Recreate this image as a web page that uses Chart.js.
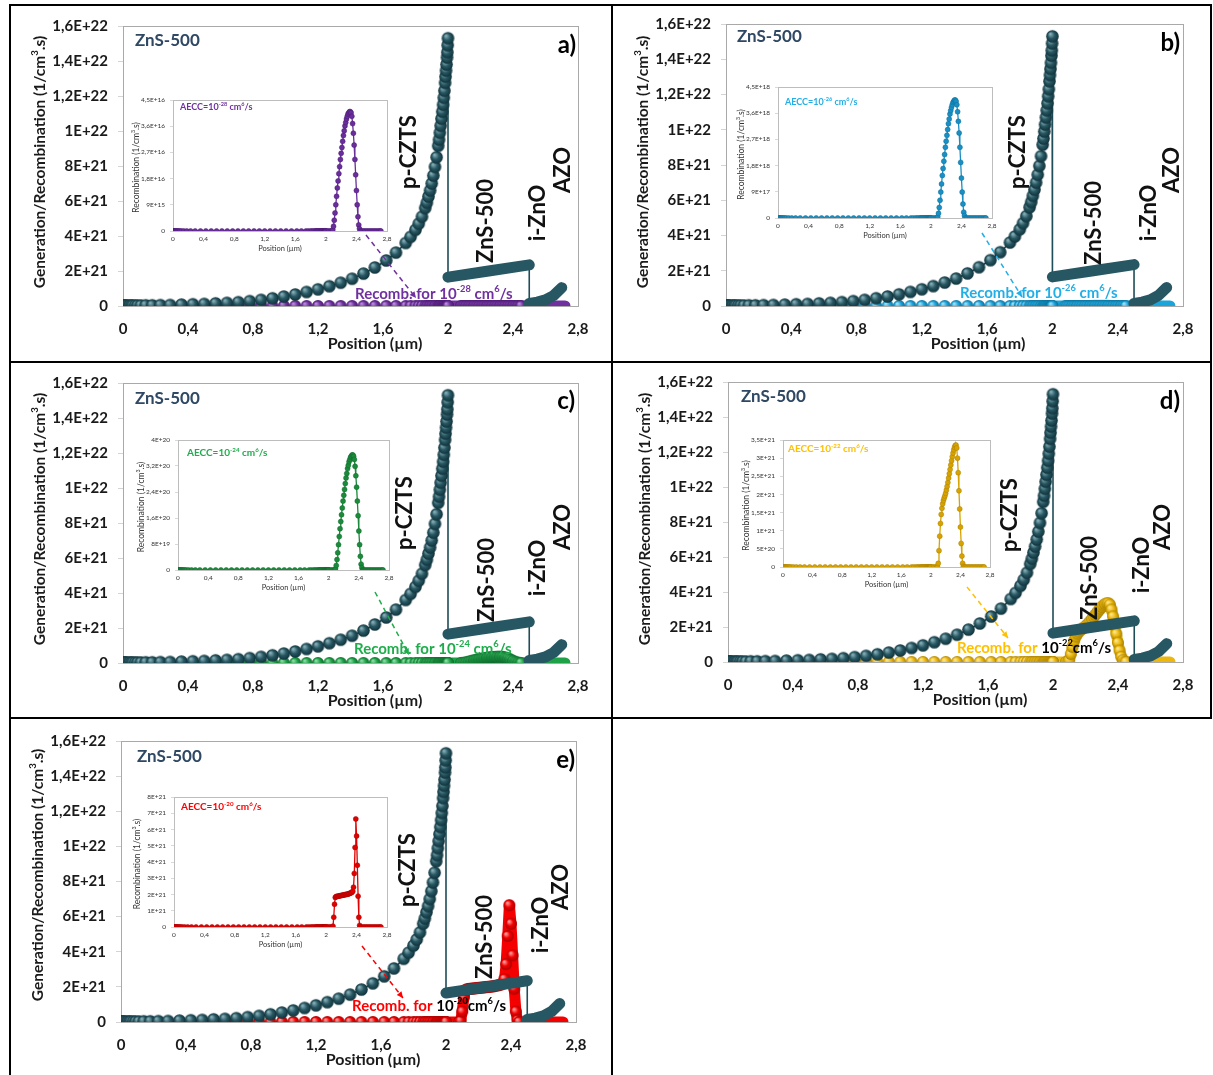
<!DOCTYPE html>
<html>
<head>
<meta charset="utf-8">
<script src="https://cdn.jsdelivr.net/npm/chart.js@4.4.1/dist/chart.umd.min.js"></script>
<style>
  body { margin: 0; background: #fff; }
  #page { position: relative; width: 1213px; height: 1075px; overflow: hidden; background: #fff; }
  #page canvas { position: absolute; }
  .rule { position: absolute; background: #000; z-index: 5; }
</style>
</head>
<body>
<div id="page"></div>
<script>
const F = 'Lato, "Open Sans", sans-serif';

// x axis (µm) shared by every chart
const xTicks = [0, 0.4, 0.8, 1.2, 1.6, 2, 2.4, 2.8];
const xTickLabels = ['0', '0,4', '0,8', '1,2', '1,6', '2', '2,4', '2,8'];

// main charts, y in units of 1E+21 /cm3.s
const mainYTicks = [0, 2, 4, 6, 8, 10, 12, 14, 16];
const mainYLabels = ['0', '2E+21', '4E+21', '6E+21', '8E+21', '1E+22', '1,2E+22', '1,4E+22', '1,6E+22'];

// generation profile (same in all five panels), 1E+21 /cm3.s
const cztsX = [0, 0.005, 0.01, 0.015, 0.02, 0.03, 0.04, 0.05, 0.06, 0.075, 0.09, 0.11, 0.14, 0.18, 0.23,
  0.29, 0.36, 0.43, 0.5, 0.57, 0.64, 0.71, 0.78, 0.85, 0.92, 0.99, 1.06, 1.13, 1.2, 1.27, 1.34, 1.41,
  1.48, 1.55, 1.62, 1.68, 1.74, 1.77, 1.8, 1.82, 1.84, 1.86, 1.87, 1.88, 1.89, 1.9, 1.91, 1.92, 1.93,
  1.94, 1.945, 1.95, 1.955, 1.96, 1.965, 1.97, 1.974, 1.978, 1.982, 1.985, 1.988, 1.991, 1.994, 1.996,
  1.998, 2.0];
const cztsGen = [0.02, 0.02, 0.02, 0.02, 0.02, 0.02, 0.02, 0.03, 0.03, 0.03, 0.03, 0.03, 0.04, 0.04, 0.05,
  0.06, 0.08, 0.1, 0.12, 0.15, 0.18, 0.22, 0.28, 0.35, 0.44, 0.54, 0.66, 0.8, 0.95, 1.13, 1.33, 1.56,
  1.85, 2.2, 2.6, 3.05, 3.6, 3.95, 4.35, 4.7, 5.1, 5.6, 5.9, 6.25, 6.6, 7.0, 7.45, 7.95, 8.5,
  9.15, 9.5, 9.9, 10.3, 10.7, 11.1, 11.5, 11.9, 12.3, 12.75, 13.1, 13.45, 13.8, 14.2, 14.5,
  14.9, 15.3];
const znsX = [2.0, 2.25, 2.5];
const znsGen = [1.65, 2.0, 2.35];
const azoX = [2.5, 2.55, 2.6, 2.65, 2.7];
const azoGen = [0.15, 0.22, 0.35, 0.6, 1.05];

// recombination: zero outside the peak region
const flatX = [2.02, 2.04, 2.06];
const tailX = [2.47, 2.49, 2.51, 2.53, 2.55, 2.57, 2.59, 2.61, 2.63, 2.65, 2.67, 2.69, 2.71, 2.72];
const peakX = [2.08, 2.09, 2.1, 2.11, 2.12, 2.13, 2.14, 2.15, 2.16, 2.17, 2.18, 2.19, 2.2, 2.21, 2.22,
  2.23, 2.24, 2.25, 2.26, 2.27, 2.28, 2.29, 2.3, 2.31, 2.32, 2.33, 2.34, 2.35, 2.36, 2.37, 2.38, 2.39,
  2.4, 2.41, 2.42, 2.43, 2.44, 2.45];
// AECC = 1e-28 (x1E+16)
const recA = [0, 0.04, 0.16, 0.37, 0.62, 0.9, 1.19, 1.48, 1.72, 1.97, 2.21, 2.46, 2.67, 2.87, 3.08, 3.28,
  3.44, 3.61, 3.73, 3.85, 3.94, 4.02, 4.06, 4.1, 4.1, 4.06, 3.94, 3.69, 3.36, 2.95, 2.46, 1.93, 1.39,
  0.9, 0.49, 0.21, 0.08, 0];
// AECC = 1e-26 (x1E+18)
const recB = [0, 0.04, 0.16, 0.36, 0.61, 0.89, 1.17, 1.46, 1.7, 1.95, 2.18, 2.43, 2.64, 2.84, 3.04, 3.24,
  3.4, 3.57, 3.69, 3.8, 3.89, 3.97, 4.01, 4.05, 4.05, 4.01, 3.89, 3.65, 3.32, 2.92, 2.43, 1.91, 1.37,
  0.89, 0.48, 0.2, 0.08, 0];
// AECC = 1e-24 (x1E+20)
const recC = [0, 0.04, 0.14, 0.32, 0.53, 0.78, 1.03, 1.27, 1.49, 1.7, 1.91, 2.12, 2.3, 2.48, 2.66, 2.83,
  2.97, 3.12, 3.22, 3.33, 3.4, 3.47, 3.5, 3.54, 3.54, 3.5, 3.4, 3.19, 2.9, 2.55, 2.12, 1.67, 1.2,
  0.78, 0.42, 0.18, 0.07, 0];
// AECC = 1e-22 (x1E+21)
const recD = [0, 0, 0.1, 0.45, 0.85, 1.2, 1.45, 1.62, 1.74, 1.83, 1.9, 1.96, 2.03, 2.12, 2.22, 2.33,
  2.45, 2.57, 2.69, 2.81, 2.93, 3.04, 3.14, 3.23, 3.3, 3.35, 3.36, 3.28, 3.0, 2.6, 2.1, 1.6, 1.1,
  0.65, 0.3, 0.1, 0.02, 0];
// AECC = 1e-20 (x1E+21)
const recE = [0, 0.05, 0.6, 1.4, 1.82, 1.87, 1.88, 1.89, 1.9, 1.91, 1.92, 1.93, 1.94, 1.95, 1.96, 1.97,
  1.98, 1.99, 2.0, 2.01, 2.02, 2.03, 2.05, 2.07, 2.09, 2.11, 2.14, 2.2, 2.45, 3.3, 4.9, 6.65, 5.6,
  3.8, 1.9, 0.6, 0.1, 0];

// inset y ticks
const insetTicksA = [0, 0.9, 1.8, 2.7, 3.6, 4.5];
const insetLabelsA = ['0', '9E+15', '1,8E+16', '2,7E+16', '3,6E+16', '4,5E+16'];
const insetTicksB = [0, 0.9, 1.8, 2.7, 3.6, 4.5];
const insetLabelsB = ['0', '9E+17', '1,8E+18', '2,7E+18', '3,6E+18', '4,5E+18'];
const insetTicksC = [0, 0.8, 1.6, 2.4, 3.2, 4];
const insetLabelsC = ['0', '8E+19', '1,6E+20', '2,4E+20', '3,2E+20', '4E+20'];
const insetTicksD = [0, 0.5, 1, 1.5, 2, 2.5, 3, 3.5];
const insetLabelsD = ['0', '5E+20', '1E+21', '1,5E+21', '2E+21', '2,5E+21', '3E+21', '3,5E+21'];
const insetTicksE = [0, 1, 2, 3, 4, 5, 6, 7, 8];
const insetLabelsE = ['0', '1E+21', '2E+21', '3E+21', '4E+21', '5E+21', '6E+21', '7E+21', '8E+21'];

const genCol = { light: '#86adb5', base: '#275763', dark: '#10323a', line: '#1f4d58' };
const purple = { light: '#b58ad6', base: '#7030a0', dark: '#4a1a70', text: '#7030a0', inset: '#6a2d9c' };
const blue = { light: '#a0ddf5', base: '#19a4dc', dark: '#0b6f99', text: '#22aee6', inset: '#1a8fc4' };
const green = { light: '#8adba3', base: '#1fa148', dark: '#0f6a2c', text: '#1fad4c', inset: '#1b8a3a' };
const gold = { light: '#fde68e', base: '#ecb810', dark: '#a98100', text: '#ffc000', inset: '#d8a300' };
const red = { light: '#ff9c9c', base: '#f40000', dark: '#a80000', text: '#ff0000', inset: '#e00000' };

const page = document.getElementById('page');

function pts(xs, ys, k = 1) { return xs.map((x, i) => ({ x, y: ys[i] * k })); }
function zeroPts(xs) { return xs.map(x => ({ x, y: 0 })); }

function ball(r, c) {
  const cv = document.createElement('canvas');
  const s = Math.ceil(r * 2 + 2);
  cv.width = s; cv.height = s;
  const g = cv.getContext('2d');
  const grad = g.createRadialGradient(s / 2 - r * 0.35, s / 2 - r * 0.4, r * 0.1, s / 2, s / 2, r);
  grad.addColorStop(0, c.light);
  grad.addColorStop(0.5, c.base);
  grad.addColorStop(1, c.dark);
  g.fillStyle = grad;
  g.beginPath(); g.arc(s / 2, s / 2, r, 0, Math.PI * 2); g.fill();
  return cv;
}

// text with ^{...} superscripts, parts = [[text, colour], ...]
function drawRich(ctx, parts, x, y, size, weight, align) {
  const segs = [];
  parts.forEach(([t, c]) => {
    t.split(/(\^\{[^}]*\})/).forEach(p => {
      if (!p) return;
      const sup = p.startsWith('^{');
      segs.push({ t: sup ? p.slice(2, -1) : p, c, sup });
    });
  });
  let w = 0;
  segs.forEach(s => {
    ctx.font = `${weight} ${s.sup ? size * 0.62 : size}px ${F}`;
    s.w = ctx.measureText(s.t).width; w += s.w;
  });
  let cx = align === 'center' ? x - w / 2 : align === 'right' ? x - w : x;
  ctx.textBaseline = 'middle';
  ctx.textAlign = 'left';
  segs.forEach(s => {
    ctx.font = `${weight} ${s.sup ? size * 0.62 : size}px ${F}`;
    ctx.fillStyle = s.c;
    ctx.fillText(s.t, cx, s.sup ? y - size * 0.34 : y);
    cx += s.w;
  });
}

function deco(spec) {
  return {
    id: 'deco',
    beforeDatasetsDraw(chart) {
      const a = chart.chartArea, ctx = chart.ctx;
      ctx.save();
      ctx.strokeStyle = spec.frame; ctx.lineWidth = 1;
      ctx.strokeRect(Math.round(a.left) + 0.5, Math.round(a.top) + 0.5, Math.round(a.right - a.left), Math.round(a.bottom - a.top));
      ctx.restore();
    },
    afterDraw(chart) {
      const ctx = chart.ctx;
      ctx.save();
      (spec.arrows || []).forEach(([x1, y1, x2, y2, c]) => {
        ctx.strokeStyle = c; ctx.fillStyle = c; ctx.lineWidth = 1.5;
        ctx.setLineDash([5, 4]);
        ctx.beginPath(); ctx.moveTo(x1, y1); ctx.lineTo(x2, y2); ctx.stroke();
        ctx.setLineDash([]);
        const ang = Math.atan2(y2 - y1, x2 - x1);
        ctx.beginPath();
        ctx.moveTo(x2, y2);
        ctx.lineTo(x2 - 7 * Math.cos(ang - 0.45), y2 - 7 * Math.sin(ang - 0.45));
        ctx.lineTo(x2 - 7 * Math.cos(ang + 0.45), y2 - 7 * Math.sin(ang + 0.45));
        ctx.closePath(); ctx.fill();
      });
      (spec.texts || []).forEach(t => {
        ctx.save();
        ctx.translate(t.x, t.y);
        if (t.rot) ctx.rotate(-Math.PI / 2);
        drawRich(ctx, t.parts, 0, 0, t.size, t.weight || 'bold', t.align || 'left');
        ctx.restore();
      });
      ctx.restore();
    }
  };
}

function fixedTicks(values) {
  return s => { s.ticks = values.map(v => ({ value: v })); };
}

function mainChart(p) {
  const W = 598, H = 355;
  const cv = document.createElement('canvas');
  cv.width = W; cv.height = H;
  cv.style.left = p.left + 'px'; cv.style.top = p.top + 'px';
  page.appendChild(cv);
  const [pl, pr, pt0, pb] = p.plot;
  const c = p.col;
  const recPath = [...zeroPts(cztsX), ...zeroPts(flatX), ...pts(peakX, p.rec, p.k), ...zeroPts(tailX)];
  const genBall = ball(6.3, genCol), recBall = ball(6, c);
  const dark = '#111';
  const t = p.txt;
  const texts = [
    { parts: [['ZnS-500', '#2f4864']], x: t.zns[0], y: t.zns[1], size: 17 },
    { parts: [[p.tag, '#000']], x: t.tag[0], y: t.tag[1], size: 24, align: 'right' },
    { parts: [['p-CZTS', dark]], x: t.pczts[0], y: t.pczts[1], size: 22, rot: true, align: 'center' },
    { parts: [['ZnS-500', dark]], x: t.zns2[0], y: t.zns2[1], size: 22, rot: true, align: 'center' },
    { parts: [['i-ZnO', dark]], x: t.izno[0], y: t.izno[1], size: 22, rot: true, align: 'center' },
    { parts: [['AZO', dark]], x: t.azo[0], y: t.azo[1], size: 22, rot: true, align: 'center' },
    { parts: p.recLabel, x: t.rec[0], y: t.rec[1], size: 15 },
    { parts: [['Generation/Recombination (1/cm^{3}.s)', '#1a1a1a']], x: pl - 83, y: 157, size: 15.5, rot: true, align: 'center' },
    { parts: [['Position (µm)', '#1a1a1a']], x: pl + 252, y: pb + 38, size: 16, align: 'center' }
  ];
  new Chart(cv, {
    type: 'scatter',
    data: {
      datasets: [
        { data: [...pts(cztsX, cztsGen), ...pts(znsX, znsGen), ...pts(azoX, azoGen)], showLine: true,
          borderColor: genCol.line, borderWidth: 1.6, pointRadius: 0, order: 3 },
        { data: [...pts(znsX, znsGen), { x: 2.5, y: null }, ...pts(azoX, azoGen)], showLine: true, spanGaps: false,
          borderColor: genCol.base, borderWidth: 11, borderCapStyle: 'round', borderJoinStyle: 'round', pointRadius: 0, order: 2 },
        { data: pts(cztsX, cztsGen), pointStyle: genBall, pointRadius: 6, order: 1 },
        { data: zeroPts(cztsX), pointStyle: recBall, pointRadius: 6, order: 5 },
        { data: pts(peakX, p.rec, p.k), pointStyle: recBall, pointRadius: 6, order: 5 },
        { data: recPath.filter(d => d.x >= 1.95), showLine: true, borderColor: c.base, borderWidth: 11,
          borderCapStyle: 'round', borderJoinStyle: 'round', pointRadius: 0, order: 6 }
      ]
    },
    options: {
      responsive: false, animation: false, events: [],
      layout: { autoPadding: false, padding: { left: 0, top: pt0, right: W - pr, bottom: 0 } },
      plugins: { legend: { display: false }, tooltip: { enabled: false } },
      scales: {
        x: {
          type: 'linear', min: 0, max: 2.8,
          afterBuildTicks: fixedTicks(xTicks),
          afterFit: s => { s.height = H - pb; s.paddingLeft = 0; s.paddingRight = 0; },
          ticks: { autoSkip: false, maxRotation: 0, padding: 14, color: '#1a1a1a',
            font: { family: F, size: 15, weight: 'bold' }, callback: (v, i) => xTickLabels[i] },
          grid: { display: false, drawTicks: false }, border: { display: false }
        },
        y: {
          type: 'linear', min: 0, max: 16,
          afterBuildTicks: fixedTicks(mainYTicks),
          afterFit: s => { s.width = pl; s.paddingTop = 0; s.paddingBottom = 0; },
          ticks: { padding: 10, color: '#1a1a1a', font: { family: F, size: 15, weight: 'bold' },
            callback: (v, i) => mainYLabels[i] },
          grid: { drawOnChartArea: false, color: '#d4d4d4', tickLength: 5 },
          border: { color: '#d4d4d4' }
        }
      }
    },
    plugins: [deco({ frame: '#a9a9a9', texts, arrows: [[...t.arrow, c.text]] })]
  });
}

function insetChart(p) {
  const [il, ir, it, ib] = p.inset;
  const padL = 50, padT = 10, padR = 12, padB = 26;
  const W = (ir - il) + padL + padR, H = (ib - it) + padT + padB;
  const cv = document.createElement('canvas');
  cv.width = W; cv.height = H;
  cv.style.left = (p.left + il - padL) + 'px';
  cv.style.top = (p.top + it - padT) + 'px';
  page.appendChild(cv);
  const c = p.col;
  const data = [...zeroPts(cztsX), ...zeroPts(flatX), ...pts(peakX, p.rec), ...zeroPts(tailX)];
  const pw = ir - il, ph = ib - it;
  const texts = [
    { parts: [['Recombination (1/cm^{3}.s)', '#333']], x: padL - 37, y: padT + ph / 2 + 2, size: 8.5, weight: 'normal', rot: true, align: 'center' },
    { parts: [['Position (µm)', '#333']], x: padL + pw / 2, y: padT + ph + 18, size: 7.5, weight: 'normal', align: 'center' },
    { parts: [['AECC=10^{' + p.aecc + '} cm^{6}/s', c.text]], x: padL + p.aeccPos[0], y: padT + p.aeccPos[1], size: p.aeccSize }
  ];
  new Chart(cv, {
    type: 'scatter',
    data: {
      datasets: [{ data, showLine: true, borderColor: c.inset, borderWidth: 1.3, pointRadius: 2.5,
        pointBackgroundColor: c.inset, pointBorderColor: c.dark, pointBorderWidth: 0.5 }]
    },
    options: {
      responsive: false, animation: false, events: [],
      layout: { autoPadding: false, padding: { left: 0, top: padT, right: padR, bottom: 0 } },
      plugins: { legend: { display: false }, tooltip: { enabled: false } },
      scales: {
        x: {
          type: 'linear', min: 0, max: 2.8,
          afterBuildTicks: fixedTicks(xTicks),
          afterFit: s => { s.height = padB; s.paddingLeft = 0; s.paddingRight = 0; },
          ticks: { autoSkip: false, maxRotation: 0, padding: 4, color: '#333',
            font: { family: F, size: 6.5 }, callback: (v, i) => xTickLabels[i] },
          grid: { display: false, drawTicks: false }, border: { display: false }
        },
        y: {
          type: 'linear', min: 0, max: p.yTicks[p.yTicks.length - 1],
          afterBuildTicks: fixedTicks(p.yTicks),
          afterFit: s => { s.width = padL; s.paddingTop = 0; s.paddingBottom = 0; },
          ticks: { padding: 5, color: '#333', font: { family: F, size: 6.5 }, callback: (v, i) => p.yLabels[i] },
          grid: { drawOnChartArea: false, color: '#d9d9d9', tickLength: 3 },
          border: { color: '#d9d9d9' }
        }
      }
    },
    plugins: [deco({ frame: '#bdbdbd', texts })]
  });
}

const panels = [
  { tag: 'a)', left: 9, top: 5, plot: [114, 569, 21, 301], inset: [164, 378, 95, 226],
    rec: recA, k: 1e-5, yTicks: insetTicksA, yLabels: insetLabelsA, col: purple,
    aecc: '-28', aeccPos: [7, 7], aeccSize: 9,
    recLabel: [['Recomb. for 10^{-28} cm^{6}/s', purple.text]],
    txt: { zns: [126, 36], tag: [567, 40], pczts: [400, 147], zns2: [477, 216], izno: [529, 208], azo: [554, 165],
      rec: [346, 289], arrow: [357, 230, 407, 293] } },
  { tag: 'b)', left: 612, top: 5, plot: [114, 571, 19, 301], inset: [166, 380, 82, 213],
    rec: recB, k: 1e-3, yTicks: insetTicksB, yLabels: insetLabelsB, col: blue,
    aecc: '-26', aeccPos: [7, 15], aeccSize: 9,
    recLabel: [['Recomb. for 10^{-26} cm^{6}/s', blue.text]],
    txt: { zns: [125, 32], tag: [568, 38], pczts: [406, 147], zns2: [482, 218], izno: [537, 208], azo: [560, 165],
      rec: [348, 288], arrow: [370, 228, 410, 292] } },
  { tag: 'c)', left: 9, top: 362, plot: [114, 569, 21, 301], inset: [169, 380, 78, 208],
    rec: recC, k: 0.1, yTicks: insetTicksC, yLabels: insetLabelsC, col: green,
    aecc: '-24', aeccPos: [9, 13], aeccSize: 10,
    recLabel: [['Recomb. for 10^{-24} cm^{6}/s', green.text]],
    txt: { zns: [126, 37], tag: [566, 39], pczts: [396, 151], zns2: [478, 218], izno: [529, 206], azo: [554, 165],
      rec: [345, 287], arrow: [366, 230, 400, 293] } },
  { tag: 'd)', left: 612, top: 362, plot: [116, 571, 20, 300], inset: [171, 378, 78, 205],
    rec: recD, k: 1, yTicks: insetTicksD, yLabels: insetLabelsD, col: gold,
    aecc: '-22', aeccPos: [5, 9], aeccSize: 10,
    recLabel: [['Recomb. for ', gold.text], ['10^{-22}cm^{6}/s', '#000']],
    txt: { zns: [129, 35], tag: [568, 39], pczts: [398, 153], zns2: [478, 216], izno: [530, 203], azo: [551, 165],
      rec: [345, 286], arrow: [355, 225, 396, 276] } },
  { tag: 'e)', left: 9, top: 718, plot: [112, 567, 23, 304], inset: [165, 378, 79, 209],
    rec: recE, k: 1, yTicks: insetTicksE, yLabels: insetLabelsE, col: red,
    aecc: '-20', aeccPos: [7, 10], aeccSize: 10,
    recLabel: [['Recomb. for ', red.text], ['10^{-20}cm^{6}/s', '#000']],
    txt: { zns: [128, 39], tag: [566, 42], pczts: [399, 152], zns2: [476, 219], izno: [532, 207], azo: [552, 169],
      rec: [343, 288], arrow: [353, 228, 394, 280] } }
];

panels.forEach(p => { mainChart(p); insetChart(p); });

// table rules around the panels
[[9, 4, 1203, 2], [9, 361, 1203, 2], [9, 717, 1203, 2], [9, 4, 2, 1071], [611, 4, 2, 1071], [1210, 4, 2, 715]]
  .forEach(([x, y, w, h]) => {
    const d = document.createElement('div');
    d.className = 'rule';
    d.style.left = x + 'px'; d.style.top = y + 'px'; d.style.width = w + 'px'; d.style.height = h + 'px';
    page.appendChild(d);
  });
</script>
</body>
</html>
